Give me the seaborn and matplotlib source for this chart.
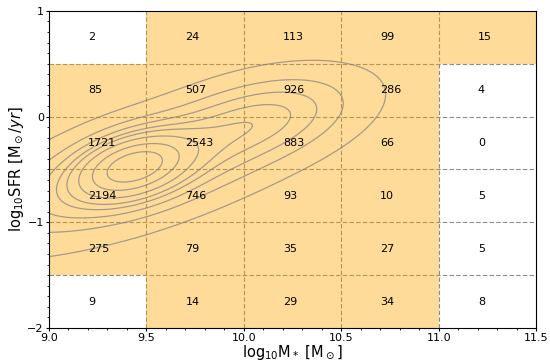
import numpy as np
import matplotlib
matplotlib.use("Agg")
import matplotlib.pyplot as plt
import seaborn as sns
from matplotlib.patches import Rectangle
from matplotlib.ticker import AutoMinorLocator, MultipleLocator

# bin edges of the grid
mass_edges = [9.0, 9.5, 10.0, 10.5, 11.0, 11.5]
sfr_edges = [-2.0, -1.5, -1.0, -0.5, 0.0, 0.5, 1.0]

# galaxy counts per cell, rows from bottom (-2..-1.5) to top (0.5..1)
counts = [
    [9, 14, 29, 34, 8],
    [275, 79, 35, 27, 5],
    [2194, 746, 93, 10, 5],
    [1721, 2543, 883, 66, 0],
    [85, 507, 926, 286, 4],
    [2, 24, 113, 99, 15],
]
min_count = 10

# density shape: gaussian components (mx, my, sx, sy, rho, weight)
comp_mx = [9.43, 9.50, 10.10]
comp_my = [-0.47, -0.50, 0.00]
comp_sx = [0.18, 0.50, 0.28]
comp_sy = [0.19, 0.40, 0.25]
comp_rho = [0.35, 0.70, 0.40]
comp_w = [0.30, 0.55, 0.15]
contour_props = [0.05, 0.17, 0.29, 0.41, 0.53, 0.65, 0.77, 0.89]

sns.set_style("ticks")
plt.rcParams.update({
    "font.family": ["DejaVu Sans"],
    "text.color": "black",
    "axes.labelcolor": "black",
    "axes.edgecolor": "black",
    "xtick.color": "black",
    "ytick.color": "black",
    "xtick.major.size": 2.5,
    "ytick.major.size": 2.5,
    "xtick.minor.size": 1.5,
    "ytick.minor.size": 1.5,
    "xtick.major.width": 0.8,
    "ytick.major.width": 0.8,
    "xtick.minor.width": 0.6,
    "ytick.minor.width": 0.6,
    "axes.linewidth": 0.8,
})

fig, ax = plt.subplots(figsize=(5.5, 3.62), dpi=100)
fig.subplots_adjust(left=0.089, right=0.975, top=0.970, bottom=0.094)

cnt = np.array(counts)

# dashed cell boundaries, under the shading
for x in mass_edges[1:-1]:
    ax.axvline(x, color="#8a8a8a", ls=(0, (4, 2)), lw=0.8, zorder=0.5)
for y in sfr_edges[1:-1]:
    ax.axhline(y, color="#8a8a8a", ls=(0, (4, 2)), lw=0.8, zorder=0.5)

# shade well populated cells
for i in range(len(sfr_edges) - 1):
    for j in range(len(mass_edges) - 1):
        if cnt[i, j] >= min_count:
            x0, y0 = mass_edges[j], sfr_edges[i]
            ax.add_patch(Rectangle((x0, y0), mass_edges[j + 1] - x0, sfr_edges[i + 1] - y0,
                                   facecolor="orange", alpha=0.4, edgecolor="none", zorder=1))

# density contours
gx, gy = np.meshgrid(np.linspace(8.0, 12.0, 400), np.linspace(-3.0, 2.0, 400))
dens = np.zeros_like(gx)
for mx, my, sx, sy, r, w in zip(comp_mx, comp_my, comp_sx, comp_sy, comp_rho, comp_w):
    dx = (gx - mx) / sx
    dy = (gy - my) / sy
    q = (dx**2 - 2 * r * dx * dy + dy**2) / (1 - r**2)
    dens += w * np.exp(-0.5 * q) / (2 * np.pi * sx * sy * np.sqrt(1 - r**2))
flat = np.sort(dens.ravel())
cum = np.cumsum(flat)
cum /= cum[-1]
levels = [flat[np.searchsorted(cum, p)] for p in contour_props]
ax.contour(gx, gy, dens, levels=levels, colors="gray", linewidths=0.9, alpha=0.7, zorder=2)

# counts
for i in range(len(sfr_edges) - 1):
    for j in range(len(mass_edges) - 1):
        xc = 0.5 * (mass_edges[j] + mass_edges[j + 1])
        yc = 0.5 * (sfr_edges[i] + sfr_edges[i + 1])
        ax.text(xc - 0.05, yc, str(cnt[i, j]), ha="left", va="center", fontsize=8, zorder=3)

ax.set_xlim(9.0, 11.5)
ax.set_ylim(-2, 1)
ax.set_xticks(mass_edges)
ax.set_yticks([-2, -1, 0, 1])
ax.xaxis.set_minor_locator(AutoMinorLocator())
ax.yaxis.set_minor_locator(MultipleLocator(0.1))
ax.tick_params(labelsize=8, pad=1.2)
ax.set_xlabel(r"log$_{10}$M$_*$ [M$_\odot$]", fontsize=10.5, labelpad=0)
ax.set_ylabel(r"log$_{10}$SFR [M$_\odot/yr$]", fontsize=10.5, labelpad=1)

fig.savefig("out.png", dpi=100)
